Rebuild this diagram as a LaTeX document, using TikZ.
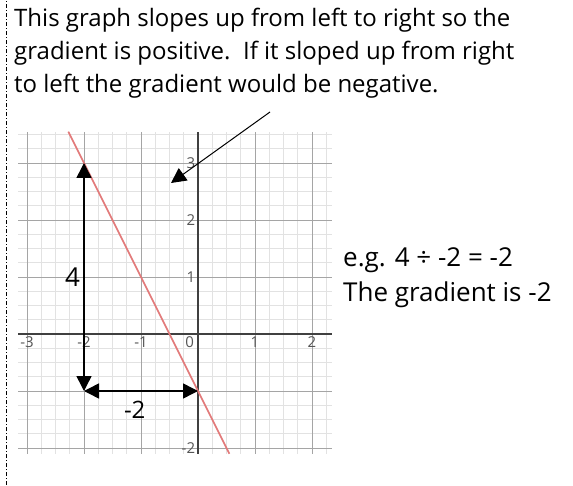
\documentclass[tikz,border=0pt]{standalone}
\usepackage{fontspec}
\setmainfont{Open Sans}
\usetikzlibrary{arrows.meta}
\definecolor{linered}{RGB}{226,122,122}
\definecolor{minorgray}{RGB}{226,226,226}
\definecolor{majorgray}{RGB}{165,165,165}
\definecolor{labgray}{RGB}{85,85,85}

\begin{document}
\begin{tikzpicture}[x=1pt, y=1pt,
  hand/.style={font=\fontsize{24}{28}\selectfont, inner sep=0pt},
  bighand/.style={font=\fontsize{26}{30}\selectfont, inner sep=0pt},
  axislab/.style={font=\fontsize{15}{17}\selectfont, text=labgray, inner sep=1pt},
  fatarrow/.style={line width=1.5pt, {Triangle[length=15pt,width=15pt]}-{Triangle[length=15pt,width=15pt]}}]
  \useasboundingbox (0,0) rectangle (573,485);
  % dash-dot margin line
  \draw[line width=1pt, dash pattern=on 4pt off 2pt on 1pt off 2pt] (6,0) -- (6,485);

  % note at the top
  \node[hand, anchor=base west] (note1) at (14,458) {This graph slopes up from left to right so the};
  \node[hand, anchor=base west] (note2) at (14,425) {gradient is positive.\ \ If it sloped up from right};
  \node[hand, anchor=base west] (note3) at (14,392) {to left the gradient would be negative.};

  % graph
  \begin{scope}[shift={(198,151)}, x=57pt, y=57pt]
    \draw[minorgray, line width=0.7pt, step=0.25] (-3.15,-2.1) grid (2.35,3.55);
    \draw[majorgray, line width=0.8pt, step=1] (-3.15,-2.1) grid (2.35,3.55);
    \draw[black!75, line width=1.2pt] (-3.15,0) -- (2.35,0);
    \draw[black!75, line width=1.2pt] (0,-2.1) -- (0,3.55);
    % axis numbers
    \foreach \x in {-3,-2,-1,1,2}
      \node[axislab, anchor=north] (xl\x) at (\x,-0.03) {\x};
    \node[axislab, anchor=north east] (xl0) at (-0.05,-0.03) {0};
    \foreach \y in {-2,1,2,3}
      \node[axislab, anchor=east] (yl\y) at (-0.03,\y) {\y};
    % the line y = -2x - 1
    \draw[linered, line width=1.6pt] (-2.275,3.55) -- (0.55,-2.1);
    % rise and run
    \coordinate (top) at (-2,3);
    \coordinate (corner) at (-2,-1);
    \coordinate (cut) at (0,-1);
    \draw[fatarrow] (corner) -- (top);
    \draw[fatarrow] (corner) -- (cut);
    \node[bighand] (rise) at (-2.2,1.0) {4};
    \node[hand] (run) at (-1.11,-1.33) {-2};
  \end{scope}

  % pointer from the note
  \coordinate (from) at (270,373);
  \coordinate (to) at (171,302);
  \draw[line width=1pt, -{Triangle[length=15pt,width=15pt]}] (from) -- (to);

  % worked example
  \node[bighand, anchor=base west] (calc) at (343,218) {e.g. 4 ÷ -2 = -2};
  \node[bighand, anchor=base west] (result) at (343,183) {The gradient is -2};
\end{tikzpicture}
\end{document}
